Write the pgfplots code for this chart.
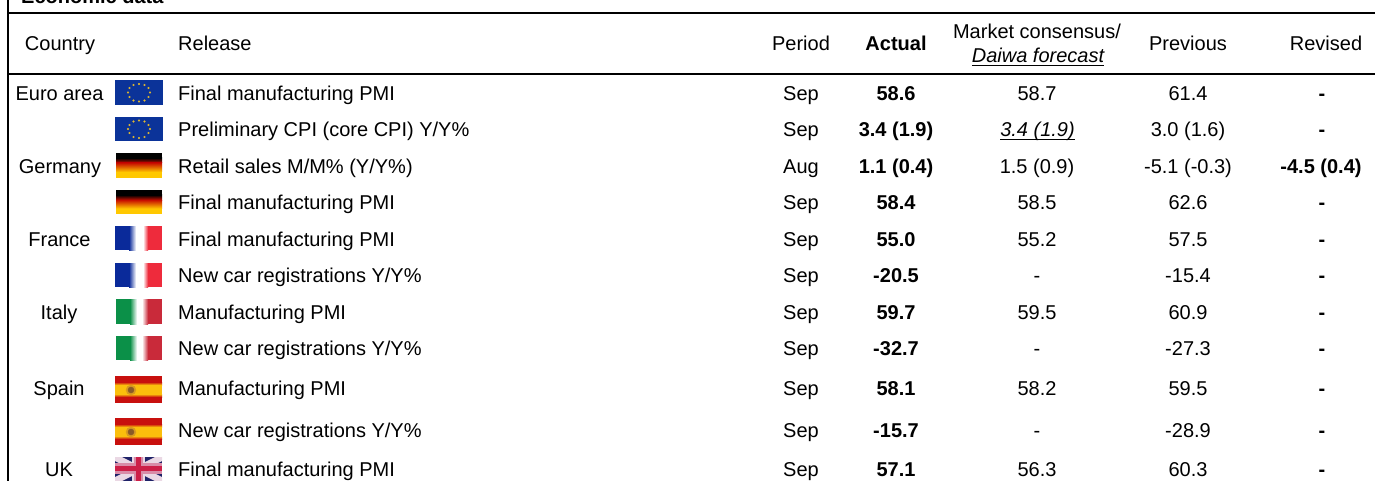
\documentclass[border=0pt]{standalone}
\usepackage{fontspec}
\setmainfont{Liberation Sans}
\usepackage{pgfplots}
\pgfplotsset{compat=1.18}

\definecolor{euBlue}{HTML}{0B3399}
\definecolor{euStar}{HTML}{E0B830}
\definecolor{deRed}{HTML}{C80F00}
\definecolor{deGold}{HTML}{FFC800}
\definecolor{frBlue}{HTML}{0A2A9A}
\definecolor{frRed}{HTML}{EE2B3C}
\definecolor{itGreen}{HTML}{0B9048}
\definecolor{itRed}{HTML}{C92A3A}
\definecolor{esRed}{HTML}{C8100E}
\definecolor{esGold}{HTML}{FBBF0C}
\definecolor{esCrest}{HTML}{D89A20}
\definecolor{esCrestDark}{HTML}{8A5A28}
\definecolor{ukBlue}{HTML}{1F2268}
\definecolor{ukRed}{HTML}{CC1F48}
\definecolor{ukPink}{HTML}{D88CA8}
\definecolor{ukPale}{HTML}{EAD8E4}

\newcommand{\cellfont}{\fontsize{20}{24}\selectfont}

\pgfplotsset{
  cell/.style={draw=none, mark=none, forget plot, point meta=explicit symbolic,
    nodes near coords,
    every node near coord/.append style={anchor=base, inner sep=0pt, yshift=-0.9pt, font=\cellfont}},
  cell left/.style={cell, every node near coord/.append style={anchor=base west}},
  cell bold/.style={cell, every node near coord/.append style={font=\cellfont\bfseries}},
  cell ital/.style={cell, every node near coord/.append style={font=\cellfont\itshape}},
  band/.style={draw=none, forget plot},
}

% x0 x1 y0 y1, flat fill
\newcommand{\rect}[5]{\addplot[band, fill=#5] coordinates {(#1,#3)(#2,#3)(#2,#4)(#1,#4)} -- cycle;}
\newcommand{\hgrad}[6]{\addplot[band, left color=#5, right color=#6] coordinates {(#1,#3)(#2,#3)(#2,#4)(#1,#4)} -- cycle;}
\newcommand{\vgrad}[6]{\addplot[band, top color=#5, bottom color=#6] coordinates {(#1,#3)(#2,#3)(#2,#4)(#1,#4)} -- cycle;}

\begin{document}
\begin{tikzpicture}
\path[use as bounding box, clip] (0,0) rectangle (1375pt,481pt);
\begin{axis}[
    at={(0pt,0pt)}, anchor=south west,
    scale only axis, width=1375pt, height=481pt,
    xmin=0, xmax=1375, ymin=0, ymax=481,
    y dir=reverse,
    hide axis,
    clip=false,
]

% rules
\addplot[black, line width=2.2pt, forget plot] coordinates {(8,0)(8,481)};
\addplot[black, line width=2pt, forget plot] coordinates {(8,13)(1375,13)};
\addplot[black, line width=2pt, forget plot] coordinates {(8,74.5)(1375,74.5)};
\addplot[black, line width=1.2pt, forget plot] coordinates {(972,65.5)(1104,65.5)};
\addplot[black, line width=1.2pt, forget plot] coordinates {(1000,139.5)(1075,139.5)};

% heading
\addplot[cell left, every node near coord/.append style={font=\cellfont\bfseries}] coordinates {(21,2.5)[Economic data]};
\addplot[cell] coordinates {(60,50)[Country] (801,50)[Period] (1037,37.5)[Market consensus/] (1188,50)[Previous] (1326,50)[Revised]};
\addplot[cell left] coordinates {(178,50)[Release]};
\addplot[cell bold] coordinates {(896,50)[Actual]};
\addplot[cell ital] coordinates {(1038,61.5)[Daiwa forecast]};

% country
\addplot[cell] coordinates {
  (59.5,99.5)[Euro area] (60,172.5)[Germany] (59.5,245.5)[France]
  (59,318.5)[Italy] (59,394.5)[Spain] (59,475.5)[UK]};

% release
\addplot[cell left] coordinates {
  (178,99.5)[Final manufacturing PMI]
  (178,135.5)[Preliminary CPI (core CPI) Y/Y\%]
  (178,172.5)[Retail sales M/M\% (Y/Y\%)]
  (178,208.5)[Final manufacturing PMI]
  (178,245.5)[Final manufacturing PMI]
  (178,281.5)[New car registrations Y/Y\%]
  (178,318.5)[Manufacturing PMI]
  (178,354.5)[New car registrations Y/Y\%]
  (178,394.5)[Manufacturing PMI]
  (178,436.5)[New car registrations Y/Y\%]
  (178,475.5)[Final manufacturing PMI]};

% period
\addplot[cell] coordinates {
  (801,99.5)[Sep] (801,135.5)[Sep] (801,172.5)[Aug] (801,208.5)[Sep]
  (801,245.5)[Sep] (801,281.5)[Sep] (801,318.5)[Sep] (801,354.5)[Sep]
  (801,394.5)[Sep] (801,436.5)[Sep] (801,475.5)[Sep]};

% actual
\addplot[cell bold] coordinates {
  (896,99.5)[58.6] (896,135.5)[3.4 (1.9)] (896,172.5)[1.1 (0.4)] (896,208.5)[58.4]
  (896,245.5)[55.0] (896,281.5)[-20.5] (896,318.5)[59.7] (896,354.5)[-32.7]
  (896,394.5)[58.1] (896,436.5)[-15.7] (896,475.5)[57.1]};

% consensus
\addplot[cell] coordinates {
  (1037,99.5)[58.7] (1037,172.5)[1.5 (0.9)] (1037,208.5)[58.5]
  (1037,245.5)[55.2] (1037,281.5)[-] (1037,318.5)[59.5] (1037,354.5)[-]
  (1037,394.5)[58.2] (1037,436.5)[-] (1037,475.5)[56.3]};
\addplot[cell ital] coordinates {(1037.5,135.5)[3.4 (1.9)]};

% previous
\addplot[cell] coordinates {
  (1188,99.5)[61.4] (1188,135.5)[3.0 (1.6)] (1188,172.5)[-5.1 (-0.3)] (1188,208.5)[62.6]
  (1188,245.5)[57.5] (1188,281.5)[-15.4] (1188,318.5)[60.9] (1188,354.5)[-27.3]
  (1188,394.5)[59.5] (1188,436.5)[-28.9] (1188,475.5)[60.3]};

% revised
\addplot[cell bold] coordinates {
  (1322,99.5)[-] (1322,135.5)[-] (1321,172.5)[-4.5 (0.4)] (1322,208.5)[-]
  (1322,245.5)[-] (1322,281.5)[-] (1322,318.5)[-] (1322,354.5)[-]
  (1322,394.5)[-] (1322,436.5)[-] (1322,475.5)[-]};

% flags: EU
\rect{115}{163}{80}{105}{euBlue}
\rect{115}{163}{117}{141}{euBlue}
\addplot[only marks, mark=*, mark size=0.8pt, euStar, forget plot] coordinates {
  (139,84)(144.5,85)(148.5,88)(150,92.5)(148.5,97)(144.5,100.5)
  (139,101.5)(133.5,100.5)(129.5,97)(128,92.5)(129.5,88)(133.5,85)
  (139,120.5)(144.5,121.5)(148.5,125)(150,129)(148.5,133)(144.5,137)
  (139,138)(133.5,137)(129.5,133)(128,129)(129.5,125)(133.5,121.5)};

% flags: Germany
\rect{116}{162}{153}{158}{black}
\vgrad{116}{162}{158}{163}{black}{deRed}
\vgrad{116}{162}{163}{172}{deRed}{deGold}
\rect{116}{162}{172}{178}{deGold}
\rect{116}{162}{190}{195}{black}
\vgrad{116}{162}{195}{200}{black}{deRed}
\vgrad{116}{162}{200}{208.5}{deRed}{deGold}
\rect{116}{162}{208.5}{214}{deGold}

% flags: France
\rect{115}{129}{226}{250}{frBlue}
\hgrad{129}{136}{226}{250}{frBlue}{white}
\hgrad{143}{148}{226}{250}{white}{frRed}
\rect{148}{162}{226}{250}{frRed}
\rect{115}{129}{263}{287}{frBlue}
\hgrad{129}{136}{263}{287}{frBlue}{white}
\hgrad{143}{148}{263}{287}{white}{frRed}
\rect{148}{162}{263}{287}{frRed}

% flags: Italy
\rect{116}{130}{299}{324}{itGreen}
\hgrad{130}{137}{299}{324}{itGreen}{white}
\hgrad{142}{148}{299}{324}{white}{itRed}
\rect{148}{162}{299}{324}{itRed}
\rect{116}{130}{336}{360}{itGreen}
\hgrad{130}{137}{336}{360}{itGreen}{white}
\hgrad{142}{148}{336}{360}{white}{itRed}
\rect{148}{162}{336}{360}{itRed}

% flags: Spain
\rect{115}{162}{376}{382}{esRed}
\vgrad{115}{162}{382}{385}{esRed}{esGold}
\rect{115}{162}{385}{394}{esGold}
\vgrad{115}{162}{394}{397}{esGold}{esRed}
\rect{115}{162}{397}{403}{esRed}
\rect{115}{162}{418}{424}{esRed}
\vgrad{115}{162}{424}{427}{esRed}{esGold}
\rect{115}{162}{427}{436}{esGold}
\vgrad{115}{162}{436}{439}{esGold}{esRed}
\rect{115}{162}{439}{445}{esRed}
\addplot[only marks, mark=*, mark size=5pt, esCrest, forget plot] coordinates {(131,390)(131,432)};
\addplot[only marks, mark=*, mark size=3pt, esCrestDark, forget plot] coordinates {(131,390)(131,432)};

% flag: UK
\rect{115}{162}{457}{481}{ukBlue}
\addplot[band, fill=ukPale] coordinates {(115,457)(122,457)(162,477)(162,481)(155,481)(115,461)} -- cycle;
\addplot[band, fill=ukPale] coordinates {(162,457)(155,457)(115,477)(115,481)(122,481)(162,461)} -- cycle;
\rect{132}{145}{457}{481}{ukPale}
\rect{115}{162}{463}{474}{ukPink}
\rect{134}{143}{457}{481}{ukPink}
\rect{136}{141}{457}{481}{ukRed}
\rect{115}{162}{466}{471}{ukRed}

\end{axis}
\end{tikzpicture}
\end{document}
